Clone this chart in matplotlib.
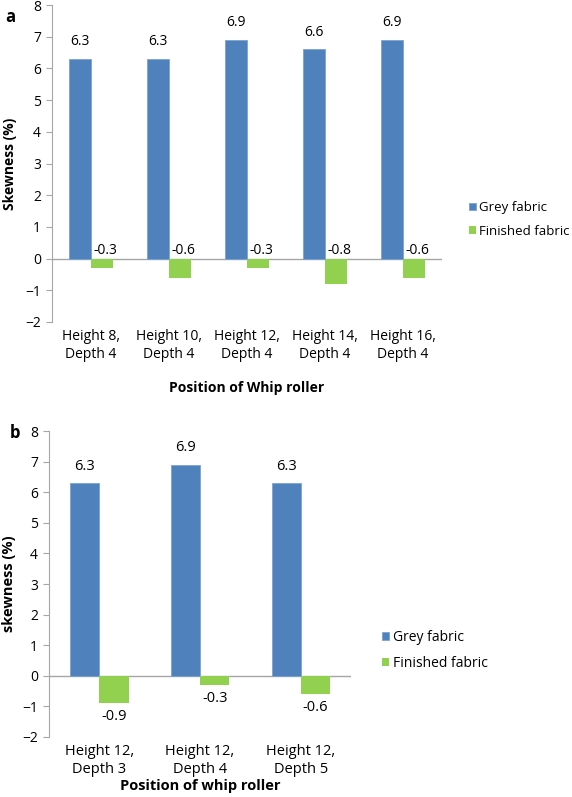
import matplotlib.pyplot as plt
import numpy as np

plt.rcParams["font.family"] = ["Open Sans", "DejaVu Sans"]

# %% Data

cats_a = ["Height 8,\nDepth 4", "Height 10,\nDepth 4", "Height 12,\nDepth 4",
          "Height 14,\nDepth 4", "Height 16,\nDepth 4"]
grey_a = [6.3, 6.3, 6.9, 6.6, 6.9]
finished_a = [-0.3, -0.6, -0.3, -0.8, -0.6]

cats_b = ["Height 12,\nDepth 3", "Height 12,\nDepth 4", "Height 12,\nDepth 5"]
grey_b = [6.3, 6.9, 6.3]
finished_b = [-0.9, -0.3, -0.6]

BLUE = "#4F81BD"
GREEN = "#92D050"
AXIS = "#a6a6a6"

# %% Plot

fig = plt.figure(figsize=(5.72, 7.97), dpi=100)
ax_a = fig.add_axes([0.0909, 0.596, 0.682, 0.3977])
ax_b = fig.add_axes([0.0857, 0.0753, 0.528, 0.3839])


def style_axes(ax, cats, size):
    ax.set_xlim(0, len(cats))
    ax.set_ylim(-2, 8)
    ax.set_yticks(range(-2, 9))
    ax.set_xticks(np.arange(len(cats)) + 0.5)
    ax.set_xticklabels(cats, fontsize=size, linespacing=1.25)
    ax.tick_params(axis="x", length=0, pad=5)
    ax.tick_params(axis="y", length=4, color=AXIS, labelsize=10, pad=4)
    for side in ["top", "right", "bottom"]:
        ax.spines[side].set_visible(False)
    ax.spines["left"].set_color(AXIS)
    ax.axhline(0, color=AXIS, lw=1, zorder=1)


# panel a
x = np.arange(len(cats_a)) + 0.5
w = 0.28
ax_a.bar(x - w / 2, grey_a, w, color=BLUE, edgecolor="#7da3d3", lw=0.6,
         label="Grey fabric", zorder=2)
ax_a.bar(x + w / 2, finished_a, w, color=GREEN, lw=0,
         label="Finished fabric", zorder=2)
for xi, v in zip(x, grey_a):
    ax_a.text(xi - w / 2, v + 0.3, f"{v}", ha="center", va="bottom", fontsize=10)
for xi, v in zip(x, finished_a):
    ax_a.text(xi + w / 2 + 0.04, 0.02, f"{v}", ha="center", va="bottom", fontsize=10)
style_axes(ax_a, cats_a, 10)
ax_a.set_xlabel("Position of Whip roller", fontsize=10, fontweight="bold", labelpad=14)
ax_a.set_ylabel("Skewness (%)", fontsize=10, fontweight="bold")
ax_a.yaxis.set_label_coords(-0.09, 0.5)
ax_a.legend(loc="center left", bbox_to_anchor=(1.07, 0.3235), frameon=False,
            fontsize=9.5, handlelength=0.5, handleheight=0.5, labelspacing=0.8,
            handletextpad=0.25, borderpad=0, borderaxespad=0)

# panel b
x = np.arange(len(cats_b)) + 0.5
w = 0.29
ax_b.bar(x - w / 2, grey_b, w, color=BLUE, edgecolor="#7da3d3", lw=0.6,
         label="Grey fabric", zorder=2)
ax_b.bar(x + w / 2, finished_b, w, color=GREEN, lw=0,
         label="Finished fabric", zorder=2)
for xi, v in zip(x, grey_b):
    ax_b.text(xi - w / 2, v + 0.3, f"{v}", ha="center", va="bottom", fontsize=10.5)
for xi, v in zip(x, finished_b):
    ax_b.text(xi + w / 2, v - 0.2, f"{v}", ha="center", va="top", fontsize=10.5)
style_axes(ax_b, cats_b, 10.5)
ax_b.set_xlabel("Position of whip roller", fontsize=10.5, fontweight="bold", labelpad=2)
ax_b.set_ylabel("skewness (%)", fontsize=10.5, fontweight="bold")
ax_b.yaxis.set_label_coords(-0.11, 0.5)
ax_b.legend(loc="center left", bbox_to_anchor=(1.103, 0.284), frameon=False,
            fontsize=10, handlelength=0.5, handleheight=0.5, labelspacing=0.8,
            handletextpad=0.3, borderpad=0, borderaxespad=0)

fig.text(0.009, 0.99, "a", fontsize=12, fontweight="bold", va="top")
fig.text(0.017, 0.468, "b", fontsize=12, fontweight="bold", va="top")

fig.savefig("out.png", dpi=100)
